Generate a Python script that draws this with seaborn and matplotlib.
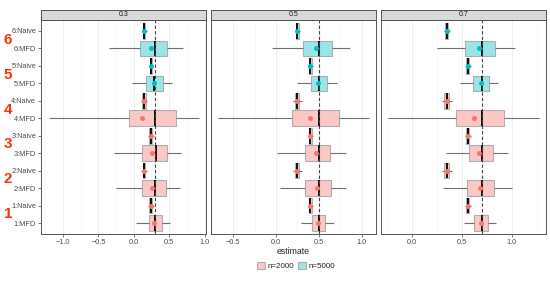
"""
Faceted boxplots of the estimate for MFD vs Naive, one panel per true value.
"""

import numpy as np
import pandas as pd
import matplotlib
matplotlib.use("Agg")
import matplotlib.pyplot as plt
from matplotlib.patches import Patch
from matplotlib.transforms import blended_transform_factory
from matplotlib.ticker import MultipleLocator
import seaborn as sns

# rows from top to bottom
LABELS = ["6:Naive", "6:MFD", "5:Naive", "5:MFD", "4:Naive", "4:MFD",
          "3:Naive", "3:MFD", "2:Naive", "2:MFD", "1:Naive", "1:MFD"]
GROUPS = ["n=5000"] * 4 + ["n=2000"] * 8
FACETS = ["0.3", "0.5", "0.7"]
TRUE_VALUES = [0.3, 0.5, 0.7]

# (whisker low, q1, median, q3, whisker high) per row
STATS_03 = [(0.11, 0.13, 0.145, 0.16, 0.18), (-0.35, 0.09, 0.30, 0.47, 0.70),
            (0.21, 0.225, 0.24, 0.255, 0.27), (-0.03, 0.17, 0.29, 0.41, 0.545),
            (0.10, 0.12, 0.145, 0.17, 0.19), (-1.20, -0.07, 0.305, 0.59, 0.925),
            (0.20, 0.22, 0.24, 0.26, 0.28), (-0.28, 0.12, 0.31, 0.47, 0.67),
            (0.10, 0.125, 0.145, 0.165, 0.19), (-0.245, 0.12, 0.30, 0.46, 0.65),
            (0.20, 0.22, 0.24, 0.26, 0.28), (0.03, 0.21, 0.30, 0.40, 0.51)]
MEAN_03 = [0.145, 0.25, 0.24, 0.28, 0.14, 0.12, 0.24, 0.26, 0.145, 0.26, 0.24, 0.29]

STATS_05 = [(0.22, 0.235, 0.25, 0.265, 0.28), (-0.05, 0.31, 0.50, 0.655, 0.86),
            (0.37, 0.385, 0.40, 0.415, 0.43), (0.245, 0.41, 0.50, 0.59, 0.705),
            (0.20, 0.225, 0.25, 0.27, 0.30), (-0.67, 0.19, 0.50, 0.735, 1.085),
            (0.37, 0.385, 0.40, 0.415, 0.43), (0.015, 0.34, 0.50, 0.63, 0.815),
            (0.20, 0.225, 0.25, 0.27, 0.30), (0.05, 0.34, 0.50, 0.64, 0.815),
            (0.37, 0.385, 0.40, 0.415, 0.43), (0.29, 0.42, 0.50, 0.57, 0.67)]
MEAN_05 = [0.25, 0.46, 0.40, 0.49, 0.25, 0.395, 0.40, 0.46, 0.25, 0.475, 0.40, 0.49]

STATS_07 = [(0.32, 0.335, 0.35, 0.365, 0.38), (0.25, 0.535, 0.70, 0.835, 1.03),
            (0.53, 0.545, 0.56, 0.575, 0.59), (0.485, 0.615, 0.70, 0.77, 0.865),
            (0.30, 0.32, 0.35, 0.37, 0.40), (-0.24, 0.44, 0.70, 0.92, 1.275),
            (0.53, 0.545, 0.56, 0.575, 0.59), (0.345, 0.57, 0.70, 0.81, 0.96),
            (0.30, 0.32, 0.35, 0.37, 0.40), (0.315, 0.555, 0.70, 0.825, 1.00),
            (0.53, 0.545, 0.56, 0.575, 0.59), (0.525, 0.625, 0.70, 0.76, 0.84)]
MEAN_07 = [0.35, 0.67, 0.56, 0.69, 0.35, 0.62, 0.56, 0.675, 0.35, 0.68, 0.56, 0.69]

XLIMS = [(-1.31, 1.02), (-0.756, 1.163), (-0.307, 1.343)]

HUE_ORDER = ["n=2000", "n=5000"]
POINT_COLORS = {"n=2000": "#F8766D", "n=5000": "#00BFC4"}
FILL_COLORS = {"n=2000": "#FCC8C5", "n=5000": "#99E5E7"}

sns.set_theme(style="white")
plt.rcParams["font.family"] = ["Liberation Sans", "DejaVu Sans"]

W, H = 550, 285
fig = plt.figure(figsize=(W / 100, H / 100), dpi=100)

panel_lefts = [41, 211, 381]
panel_w = 165
panel_top, panel_bottom = 20, 234

all_stats = [STATS_03, STATS_05, STATS_07]
all_means = [MEAN_03, MEAN_05, MEAN_07]

axes = []
for i, (stats, means) in enumerate(zip(all_stats, all_means)):
    ax = fig.add_axes([panel_lefts[i] / W, (H - panel_bottom) / H,
                       panel_w / W, (panel_bottom - panel_top) / H])
    axes.append(ax)

    # long-form frame: five numbers per row give exact quartiles
    rows = []
    for lab, grp, st in zip(LABELS, GROUPS, stats):
        for v in st:
            rows.append({"label": lab, "group": grp, "value": v})
    df = pd.DataFrame(rows)
    df_mean = pd.DataFrame({"label": LABELS, "group": GROUPS, "value": means})

    ax.set_axisbelow(True)
    ax.xaxis.set_major_locator(MultipleLocator(0.5))
    ax.xaxis.set_minor_locator(MultipleLocator(0.25))
    ax.grid(which="major", color="#EBEBEB", linewidth=0.6)
    ax.grid(which="minor", axis="x", color="#F4F4F4", linewidth=0.4)

    sns.boxplot(
        data=df, x="value", y="label", hue="group",
        order=LABELS, hue_order=HUE_ORDER, palette=FILL_COLORS,
        dodge=False, whis=np.inf, width=0.9, saturation=1,
        showcaps=False, linewidth=0.8, linecolor="#707070",
        boxprops=dict(edgecolor="#AFAFAF"),
        medianprops=dict(color="black", linewidth=1.3),
        legend=False, ax=ax,
    )
    sns.stripplot(
        data=df_mean, x="value", y="label", hue="group",
        order=LABELS, hue_order=HUE_ORDER, palette=POINT_COLORS,
        jitter=False, dodge=False, size=3.6, linewidth=0,
        legend=False, ax=ax, zorder=5,
    )
    ax.axvline(TRUE_VALUES[i], color="#444444", linestyle=(0, (3, 2)),
               linewidth=0.8, zorder=4)

    ax.set_xlim(*XLIMS[i])
    ax.set_ylim(len(LABELS) - 0.37, -0.63)
    ax.set_ylabel("")
    ax.set_xlabel("estimate" if i == 1 else "", fontsize=6.3, labelpad=1)
    ax.tick_params(axis="both", labelsize=5.3, colors="#4D4D4D", length=2,
                   width=0.5, pad=1.5, left=(i == 0), bottom=True)
    for lbl in ax.get_xticklabels() + ax.get_yticklabels():
        lbl.set_color("#4D4D4D")
    if i > 0:
        ax.set_yticklabels([])
        ax.tick_params(axis="y", left=False)
    for sp in ax.spines.values():
        sp.set_color("#555555")
        sp.set_linewidth(0.7)

    # facet strip
    sax = fig.add_axes([panel_lefts[i] / W, (H - 19.5) / H, panel_w / W, 10 / H])
    sax.set_facecolor("#D9D9D9")
    sax.set_xticks([])
    sax.set_yticks([])
    for sp in sax.spines.values():
        sp.set_color("#555555")
        sp.set_linewidth(0.7)
    sax.text(0.5, 0.45, FACETS[i], ha="center", va="center",
             fontsize=5.0, color="#1A1A1A", transform=sax.transAxes)

# red group numbers to the left of the first panel
trans = blended_transform_factory(fig.transFigure, axes[0].transData)
for k, num in enumerate(["6", "5", "4", "3", "2", "1"]):
    axes[0].text(8 / W, 2 * k + 0.5, num, transform=trans, ha="center",
                 va="center", fontsize=11, fontweight="bold", color="#FF3300",
                 clip_on=False)

handles = [Patch(facecolor=FILL_COLORS[g], edgecolor="#AFAFAF", linewidth=0.8,
                 label=g) for g in HUE_ORDER]
fig.legend(handles=handles, loc="center", bbox_to_anchor=(296 / W, 19 / H),
           ncol=2, frameon=False, fontsize=5.8, handlelength=1.0,
           handleheight=0.9, handletextpad=0.3, columnspacing=0.4)

fig.savefig("out.png", dpi=100)
